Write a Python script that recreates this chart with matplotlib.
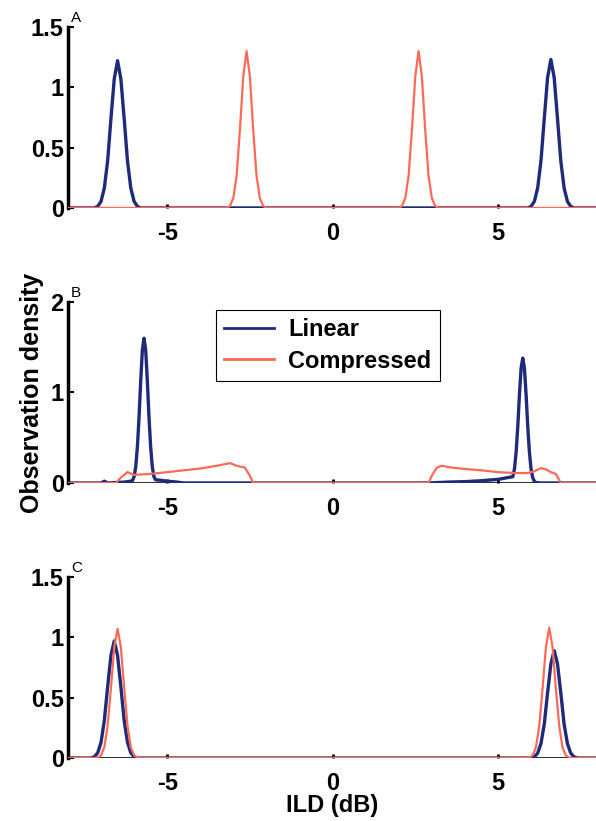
import matplotlib
matplotlib.use('Agg')
import matplotlib.pyplot as plt

# ── Data ────────────────────────────────────────────────────────────────────
# Panel A
A_LIN_X = [-8, -7.2, -7.1, -7.0, -6.9, -6.8, -6.7, -6.6, -6.5, -6.4, -6.3, -6.2, -6.1, -6.0,
           -5.9, -5.8, 5.9, 6.0, 6.1, 6.2, 6.3, 6.4, 6.5, 6.6, 6.7, 6.8, 6.9, 7.0, 7.1,
           7.2, 7.3, 8]
A_LIN_Y = [0, 0, 0.013, 0.054, 0.165, 0.39, 0.74, 1.07, 1.22, 1.07, 0.74, 0.39, 0.165, 0.054,
           0.013, 0, 0, 0.013, 0.054, 0.165, 0.39, 0.74, 1.08, 1.23, 1.08, 0.74, 0.39,
           0.165, 0.054, 0.013, 0, 0]
A_CMP_X = [-8, -3.2, -3.1, -3.0, -2.9, -2.8, -2.7, -2.6, -2.5, -2.4, -2.3, -2.2, -2.1, -2.0,
           2.0, 2.1, 2.2, 2.3, 2.4, 2.5, 2.6, 2.7, 2.8, 2.9, 3.0, 3.1, 3.2, 8]
A_CMP_Y = [0, 0, 0.017, 0.082, 0.27, 0.65, 1.09, 1.30, 1.09, 0.65, 0.27, 0.082, 0.017, 0,
           0, 0.017, 0.082, 0.27, 0.65, 1.09, 1.30, 1.09, 0.65, 0.27, 0.082, 0.017, 0, 0]

# Panel B
B_LIN_X = [-8, -7.0, -6.9, -6.8, -6.3, -6.1, -6.05, -6.0, -5.95, -5.9, -5.85, -5.8, -5.75,
           -5.7, -5.65, -5.6, -5.55, -5.5, -5.45, -5.4, -5.35, -5.2, -5.0, -4.7, -4.5,
           2.9, 3.5, 4.0, 4.5, 5.0, 5.3, 5.45, 5.5, 5.55, 5.6, 5.65, 5.7, 5.75, 5.8,
           5.85, 5.9, 5.95, 6.0, 6.05, 6.1, 6.15, 6.3, 8]
B_LIN_Y = [0, 0, 0.02, 0, 0.01, 0.02, 0.025, 0.07, 0.18, 0.40, 0.73, 1.13, 1.47,
           1.60, 1.47, 1.13, 0.73, 0.40, 0.18, 0.07, 0.035, 0.03, 0.02, 0.01, 0,
           0, 0.01, 0.015, 0.025, 0.04, 0.06, 0.07, 0.157, 0.345, 0.63, 0.98, 1.27, 1.38,
           1.27, 0.98, 0.63, 0.345, 0.157, 0.06, 0.019, 0.005, 0, 0]
B_CMP_X = [-8, -6.55, -6.4, -6.2, -6.0, -5.5, -5.0, -4.5, -4.0, -3.5, -3.1, -2.9, -2.65,
           -2.5, -2.4, 2.9, 3.0, 3.15, 3.3, 3.6, 4.0, 4.5, 5.0, 5.5, 5.9, 6.1, 6.3,
           6.45, 6.6, 6.75, 6.9, 8]
B_CMP_Y = [0, 0, 0.06, 0.12, 0.09, 0.10, 0.12, 0.14, 0.16, 0.19, 0.22, 0.19, 0.17,
           0.08, 0, 0, 0.08, 0.17, 0.19, 0.17, 0.155, 0.14, 0.12, 0.11, 0.11, 0.13, 0.165,
           0.15, 0.12, 0.10, 0, 0]

# Panel C
C_LIN_X = [-8, -7.3, -7.2, -7.1, -7.0, -6.9, -6.8, -6.7, -6.6, -6.5, -6.4, -6.3, -6.2, -6.1,
           -6.0, -5.9, 6.0, 6.1, 6.2, 6.3, 6.4, 6.5, 6.6, 6.7, 6.8, 6.9, 7.0, 7.1, 7.2,
           7.3, 7.4, 8]
C_LIN_Y = [0, 0, 0.011, 0.043, 0.13, 0.31, 0.59, 0.85, 0.97, 0.85, 0.59, 0.31, 0.13, 0.043,
           0.011, 0, 0, 0.01, 0.04, 0.12, 0.28, 0.54, 0.78, 0.89, 0.78, 0.54, 0.28, 0.12,
           0.04, 0.01, 0, 0]
C_CMP_X = [-8, -7.2, -7.1, -7.0, -6.9, -6.8, -6.7, -6.6, -6.5, -6.4, -6.3, -6.2, -6.1, -6.0,
           -5.9, -5.8, 5.85, 5.95, 6.05, 6.15, 6.25, 6.35, 6.45, 6.55, 6.65, 6.75, 6.85,
           6.95, 7.05, 7.15, 7.25, 8]
C_CMP_Y = [0, 0, 0.004, 0.022, 0.09, 0.27, 0.58, 0.92, 1.07, 0.92, 0.58, 0.27, 0.09, 0.022,
           0.004, 0, 0, 0.004, 0.022, 0.09, 0.27, 0.58, 0.92, 1.08, 0.92, 0.58, 0.27,
           0.09, 0.022, 0.004, 0, 0]

PANELS = [
    ("A", A_LIN_X, A_LIN_Y, A_CMP_X, A_CMP_Y, [0, 0.5, 1, 1.5], ["0", "0.5", "1", "1.5"]),
    ("B", B_LIN_X, B_LIN_Y, B_CMP_X, B_CMP_Y, [0, 1, 2], ["0", "1", "2"]),
    ("C", C_LIN_X, C_LIN_Y, C_CMP_X, C_CMP_Y, [0, 0.5, 1, 1.5], ["0", "0.5", "1", "1.5"]),
]
X_TICKS = [-5, 0, 5]
X_LABELS = ["-5", "0", "5"]

# ── Style ───────────────────────────────────────────────────────────────────
BLUE = "#1f2a78"
RED = "#fb6a58"
FS = 17
plt.rcParams['font.family'] = ['Liberation Sans', 'DejaVu Sans']

fig = plt.figure(figsize=(5.96, 8.21), dpi=100)
fig.patch.set_facecolor('white')

# axes rectangles (left, bottom, width, height) in figure fractions
RECTS = [(0.114, 0.7467, 0.888, 0.2205),
         (0.114, 0.4117, 0.888, 0.2205),
         (0.114, 0.0767, 0.888, 0.2205)]

for (letter, lx, ly, cx, cy, yt, ytl), rect in zip(PANELS, RECTS):
    ax = fig.add_axes(rect)
    ax.axhline(0, color='#333333', lw=2.2, zorder=1)
    l1, = ax.plot(lx, ly, color=BLUE, lw=2.4, zorder=2, label='Linear')
    l2, = ax.plot(cx, cy, color=RED, lw=1.6, zorder=3, label='Compressed')
    ax.set_xlim(-8, 8)
    ax.set_ylim(0, yt[-1])
    ax.set_yticks(yt)
    ax.set_yticklabels(ytl, fontsize=FS, fontweight='bold')
    ax.set_xticks(X_TICKS)
    ax.set_xticklabels(X_LABELS, fontsize=FS, fontweight='bold')
    for s in ('top', 'right', 'bottom'):
        ax.spines[s].set_visible(False)
    ax.spines['left'].set_linewidth(2.5)
    ax.tick_params(axis='y', direction='in', length=4, width=1.5, pad=3)
    ax.tick_params(axis='x', direction='in', length=3, width=2, pad=10)
    ax.text(0.006, 1.05, letter, transform=ax.transAxes, fontsize=11,
            ha='left', va='center')
    ax.patch.set_visible(False)

    if letter == "B":
        ax.set_ylabel("Observation density", fontsize=FS + 1, fontweight='bold', labelpad=5)
        leg = ax.legend(handles=[l1, l2], loc='upper left', bbox_to_anchor=(0.28, 0.955),
                        borderaxespad=0, fancybox=False, framealpha=1, edgecolor='black',
                        prop={'size': FS, 'weight': 'bold'}, handlelength=2.1,
                        borderpad=0.35, labelspacing=0.35, handletextpad=0.6)
        leg.get_frame().set_linewidth(0.8)
        for h in leg.get_lines():
            h.set_linewidth(2)
    if letter == "C":
        ax.set_xlabel("ILD (dB)", fontsize=FS, fontweight='bold', labelpad=-1)

fig.savefig("out.png", dpi=100, facecolor='white')
